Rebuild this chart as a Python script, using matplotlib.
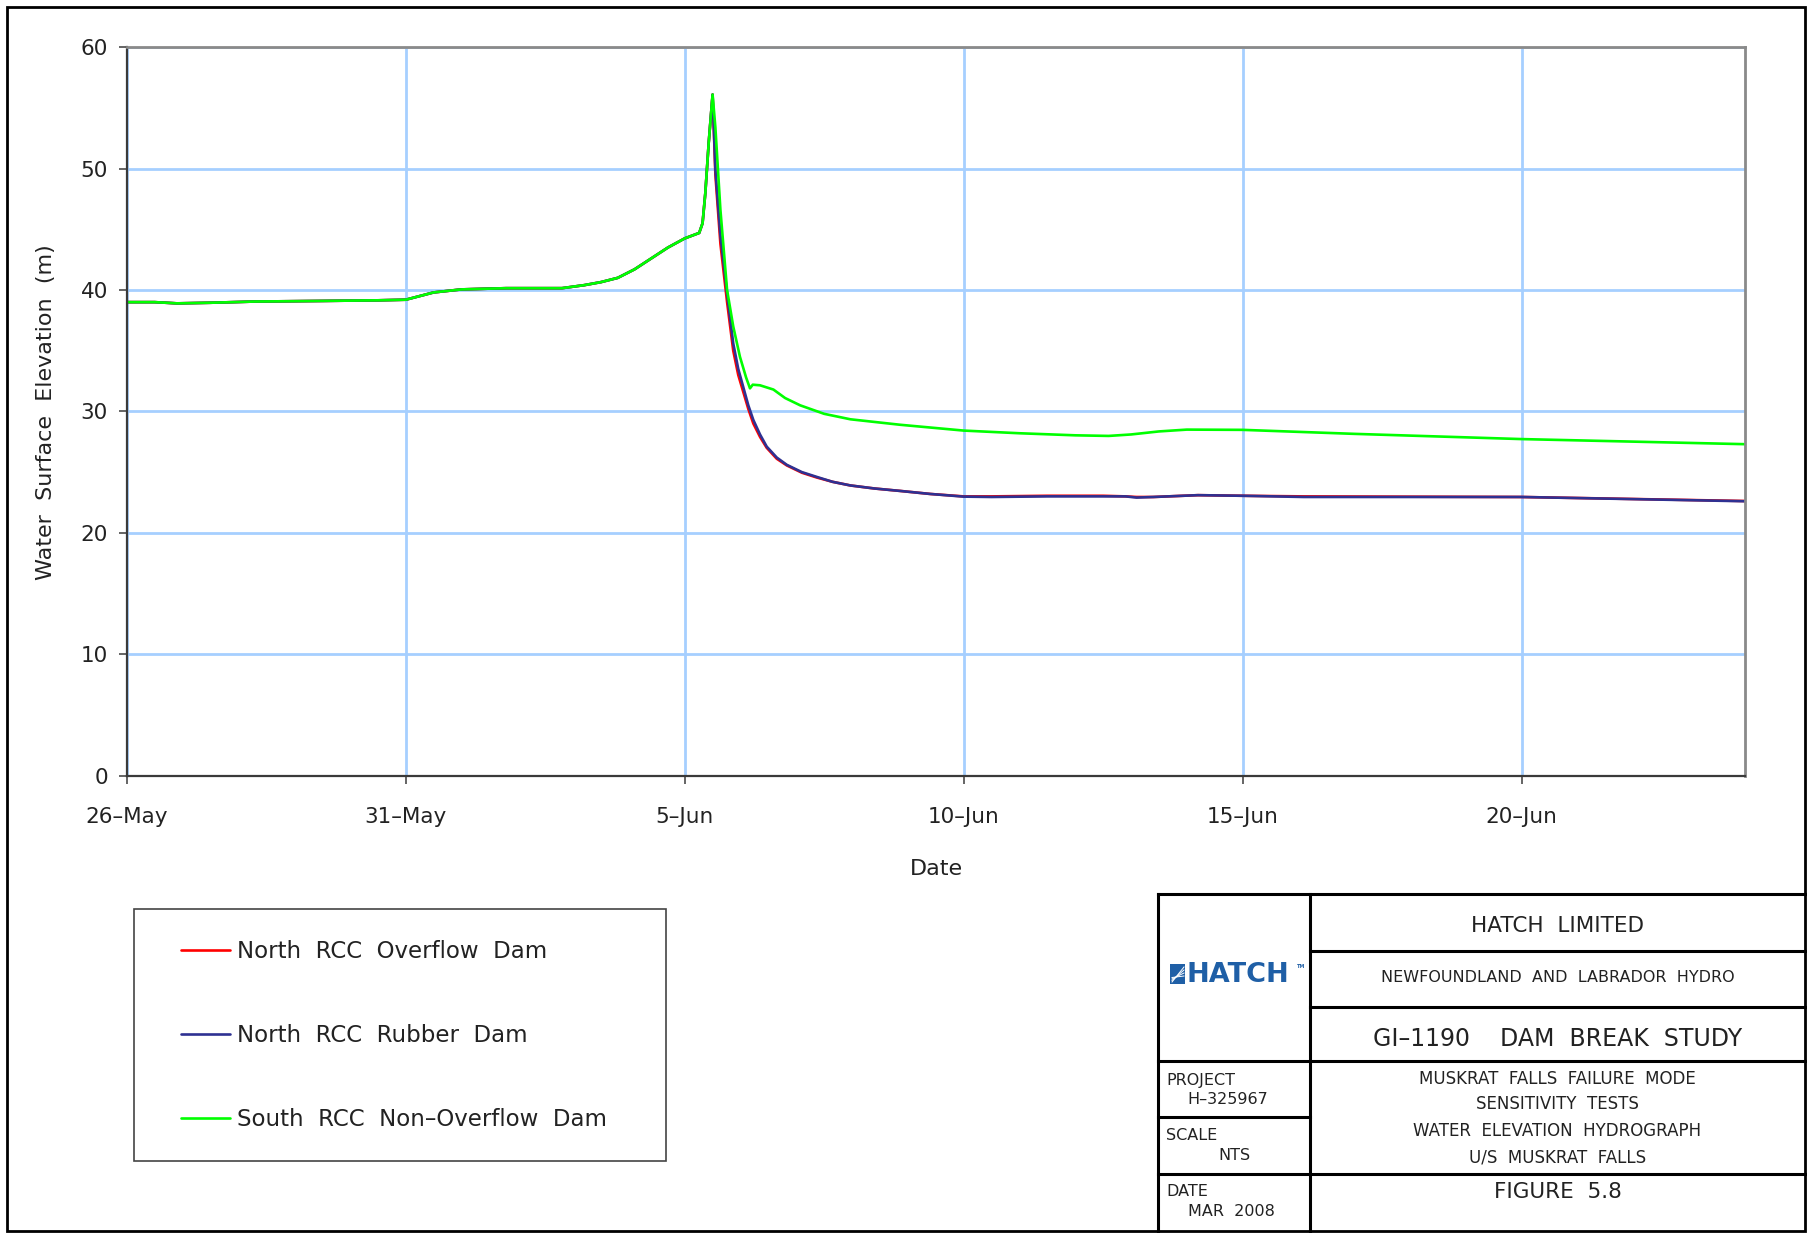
import numpy as np
import matplotlib
matplotlib.use('Agg')
import matplotlib.pyplot as plt
from matplotlib.patches import Rectangle

plt.rcParams['font.family'] = 'DejaVu Sans'

# days after 26-May
north_overflow_day = [0, 0.5, 0.9, 1.5, 2.3, 3.5, 4.5, 5.0, 5.5, 6.0, 6.8, 7.8, 8.2, 8.5, 8.8,
                      9.1, 9.4, 9.7, 10.0, 10.26, 10.32, 10.37, 10.43, 10.50, 10.55, 10.64,
                      10.76, 10.87, 10.96, 11.05, 11.14, 11.23, 11.35, 11.47, 11.65, 11.83,
                      12.1, 12.37, 12.65, 12.97, 13.4, 13.86, 14.4, 15.0, 15.5, 16.5, 17.5,
                      17.9, 18.1, 18.4, 19.2, 20.0, 21.1, 25.0, 29.0]
north_overflow_elev = [39.0, 39.0, 38.9, 38.95, 39.05, 39.1, 39.15, 39.2, 39.8, 40.05, 40.15,
                       40.15, 40.4, 40.65, 41.0, 41.7, 42.6, 43.5, 44.25, 44.7, 45.5, 48.0,
                       52.1, 56.1, 49.5, 43.8, 39.0, 35.0, 33.0, 31.6, 30.2, 29.0, 27.9,
                       27.0, 26.1, 25.55, 24.95, 24.55, 24.2, 23.9, 23.65, 23.45, 23.2,
                       23.0, 23.0, 23.05, 23.05, 23.0, 22.95, 22.95, 23.1, 23.05, 23.0,
                       22.95, 22.62]

north_rubber_day = north_overflow_day
north_rubber_elev = [39.0, 39.0, 38.9, 38.95, 39.05, 39.1, 39.15, 39.2, 39.8, 40.05, 40.15,
                     40.15, 40.4, 40.65, 41.0, 41.7, 42.6, 43.5, 44.25, 44.7, 45.5, 48.0,
                     52.1, 56.1, 49.9, 44.5, 39.7, 35.6, 33.5, 32.0, 30.5, 29.3, 28.1,
                     27.1, 26.2, 25.6, 25.0, 24.6, 24.2, 23.9, 23.65, 23.45, 23.2,
                     22.98, 22.95, 23.0, 23.0, 23.0, 22.9, 22.95, 23.1, 23.05, 22.95,
                     22.95, 22.6]

south_day = [0, 0.5, 0.9, 1.5, 2.3, 3.5, 4.5, 5.0, 5.5, 6.0, 6.8, 7.8, 8.2, 8.5, 8.8, 9.1,
             9.4, 9.7, 10.0, 10.26, 10.32, 10.37, 10.43, 10.50, 10.55, 10.64, 10.76, 10.87,
             10.99, 11.1, 11.17, 11.22, 11.35, 11.59, 11.8, 12.07, 12.5, 12.97, 13.86, 15.0,
             16.0, 17.0, 17.6, 18.0, 18.5, 19.0, 20.0, 22.0, 25.0, 29.0]
south_elev = [39.0, 39.0, 38.9, 38.95, 39.05, 39.1, 39.15, 39.2, 39.8, 40.05, 40.15, 40.15,
              40.4, 40.65, 41.0, 41.7, 42.6, 43.5, 44.25, 44.7, 45.5, 48.0, 52.1, 56.1,
              53.4, 46.6, 40.0, 37.0, 34.5, 32.8, 31.9, 32.2, 32.15, 31.8, 31.1, 30.5, 29.8,
              29.35, 28.9, 28.42, 28.2, 28.03, 27.98, 28.1, 28.35, 28.5, 28.48, 28.15,
              27.72, 27.3]

series_names = ['North  RCC  Overflow  Dam', 'North  RCC  Rubber  Dam',
                'South  RCC  Non\u2013Overflow  Dam']
series_colors = ['#ff0000', '#2e3192', '#00ff00']

tick_days = [0, 5, 10, 15, 20, 25]
tick_labels = ['26\u2013May', '31\u2013May', '5\u2013Jun', '10\u2013Jun', '15\u2013Jun', '20\u2013Jun']
y_ticks = [0, 10, 20, 30, 40, 50, 60]

base = np.datetime64('2008-05-26T00:00')


def to_dates(days):
    return base + np.round(np.array(days) * 1440).astype('timedelta64[m]')


W, H = 1807, 1233
fig = plt.figure(figsize=(W / 100, H / 100), dpi=100, facecolor='white')

# page frame, legend box and title block drawn in pixel coordinates
bg = fig.add_axes([0, 0, 1, 1], zorder=0)
bg.set_xlim(0, W)
bg.set_ylim(H, 0)
bg.axis('off')

ax = fig.add_axes([126.8 / W, 1 - 775.6 / H, (1744.7 - 126.8) / W, (775.6 - 47.2) / H], zorder=1)

handles = []
for d, v, name, c in zip([north_overflow_day, north_rubber_day, south_day],
                         [north_overflow_elev, north_rubber_elev, south_elev],
                         series_names, series_colors):
    ln, = ax.plot(to_dates(d), v, color=c, lw=1.9, label=name,
                  solid_joinstyle='round', solid_capstyle='round')
    handles.append(ln)

ax.set_xlim(to_dates([0])[0], to_dates([29])[0])
ax.set_ylim(0, 60)
ax.set_xticks(to_dates(tick_days))
ax.set_xticklabels(tick_labels)
ax.set_yticks(y_ticks)
ax.grid(True, color='#a6cfff', lw=2)
ax.set_axisbelow(True)
for s in ['left', 'bottom']:
    ax.spines[s].set_color('#3a3a3a')
    ax.spines[s].set_linewidth(1.6)
for s in ['top', 'right']:
    ax.spines[s].set_color('#8a8a8a')
    ax.spines[s].set_linewidth(2)
ax.tick_params(axis='x', direction='out', length=5.5, width=1.1, color='#3a3a3a',
               pad=17, labelsize=15.5, labelcolor='#222222')
ax.tick_params(axis='y', direction='out', length=5.5, width=1.1, color='#3a3a3a',
               pad=8, labelsize=15.5, labelcolor='#222222')

bg.text(46, 412, 'Water  Surface  Elevation  (m)', rotation=90, ha='center', va='center',
        fontsize=16, color='#222222')
bg.text(936, 869, 'Date', ha='center', va='center', fontsize=16, color='#222222')

# outer frame
bg.add_patch(Rectangle((7, 7), 1798, 1224, fill=False, ec='black', lw=2))

# legend
bg.add_patch(Rectangle((134, 909), 532, 252, fill=False, ec='#444444', lw=1.2))
fig.legend(handles=handles, loc='upper left', bbox_to_anchor=(181 / W, 1 - 940 / H),
           frameon=False, fontsize=16.5, handlelength=2.15, handletextpad=0.28,
           labelspacing=2.67, borderpad=0, borderaxespad=0, labelcolor='#222222')

# title block
tb_x0, tb_xd, tb_x1 = 1158, 1310, 1805
tb_y = [894, 951, 1007, 1061, 1117, 1174, 1231]
lk = dict(color='black', lw=2.2)
bg.plot([tb_x0, tb_x1], [tb_y[0], tb_y[0]], **lk)
bg.plot([tb_x0, tb_x0], [tb_y[0], tb_y[-1]], **lk)
bg.plot([tb_xd, tb_xd], [tb_y[0], tb_y[-1]], **lk)
bg.plot([tb_xd, tb_x1], [tb_y[1], tb_y[1]], **lk)
bg.plot([tb_xd, tb_x1], [tb_y[2], tb_y[2]], **lk)
bg.plot([tb_x0, tb_x1], [tb_y[3], tb_y[3]], **lk)
bg.plot([tb_x0, tb_xd], [tb_y[4], tb_y[4]], **lk)
bg.plot([tb_x0, tb_x1], [tb_y[5], tb_y[5]], **lk)

cx = (tb_xd + tb_x1) / 2
tc = '#222222'
bg.text(cx, 926, 'HATCH  LIMITED', ha='center', va='center', fontsize=15.5, color=tc)
bg.text(cx, 978, 'NEWFOUNDLAND  AND  LABRADOR  HYDRO', ha='center', va='center', fontsize=11.5, color=tc)
bg.text(cx, 1039, 'GI\u20131190    DAM  BREAK  STUDY', ha='center', va='center', fontsize=17, color=tc)
for yy, s in zip([1079, 1104, 1131, 1157],
                 ['MUSKRAT  FALLS  FAILURE  MODE', 'SENSITIVITY  TESTS',
                  'WATER  ELEVATION  HYDROGRAPH', 'U/S  MUSKRAT  FALLS']):
    bg.text(cx, yy, s, ha='center', va='center', fontsize=12, color=tc)
bg.text(cx, 1192, 'FIGURE  5.8', ha='center', va='center', fontsize=15.5, color=tc)

bg.text(1166, 1080, 'PROJECT', ha='left', va='center', fontsize=11.5, color=tc)
bg.text(1187, 1099, 'H\u2013325967', ha='left', va='center', fontsize=11.5, color=tc)
bg.text(1166, 1135, 'SCALE', ha='left', va='center', fontsize=11.5, color=tc)
bg.text(1218, 1155, 'NTS', ha='left', va='center', fontsize=11.5, color=tc)
bg.text(1166, 1191, 'DATE', ha='left', va='center', fontsize=11.5, color=tc)
bg.text(1188, 1212, 'MAR  2008', ha='left', va='center', fontsize=11.5, color=tc)

# company logo
logo = '#1f5fa6'
bg.add_patch(Rectangle((1170, 964), 15, 20, color=logo, lw=0))
for k in range(4):
    bg.plot([1172, 1184], [982 - k * 1.5, 967 + k * 3], color='white', lw=0.7)
bg.text(1187, 975, 'HATCH', ha='left', va='center', fontsize=19.5, fontweight='bold', color=logo)
bg.text(1297, 966, 'TM', ha='left', va='center', fontsize=3.5, fontweight='bold', color=logo)

fig.savefig('out.png', dpi=100, facecolor='white')
